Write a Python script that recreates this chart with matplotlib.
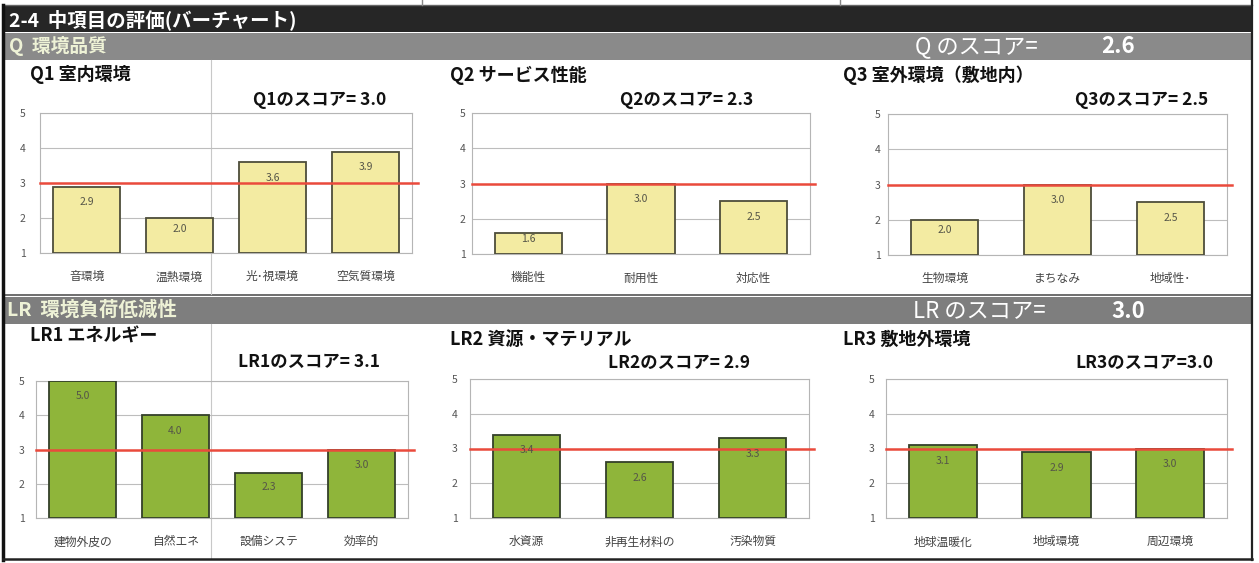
import matplotlib
matplotlib.use("Agg")
import matplotlib.pyplot as plt
from matplotlib.patches import Rectangle
from matplotlib.lines import Line2D

plt.rcParams['font.family'] = ['Noto Sans CJK JP', 'DejaVu Sans']

# ---------------- data ----------------
header_title = "2-4  中項目の評価(バーチャート)"
q_section = "Q  環境品質"
lr_section = "LR  環境負荷低減性"
q_total = 2.6
lr_total = 3.0

q1_title = "Q1 室内環境"
q1_score = 3.0
q1_labels = ['音環境', '温熱環境', '光･視環境', '空気質環境']
q1_values = [2.9, 2.0, 3.6, 3.9]

q2_title = "Q2 サービス性能"
q2_score = 2.3
q2_labels = ['機能性', '耐用性', '対応性']
q2_values = [1.6, 3.0, 2.5]

q3_title = "Q3 室外環境（敷地内）"
q3_score = 2.5
q3_labels = ['生物環境', 'まちなみ', '地域性･']
q3_values = [2.0, 3.0, 2.5]

lr1_title = "LR1 エネルギー"
lr1_score = 3.1
lr1_labels = ['建物外皮の', '自然エネ', '設備システ', '効率的']
lr1_values = [5.0, 4.0, 2.3, 3.0]

lr2_title = "LR2 資源・マテリアル"
lr2_score = 2.9
lr2_labels = ['水資源', '非再生材料の', '汚染物質']
lr2_values = [3.4, 2.6, 3.3]

lr3_title = "LR3 敷地外環境"
lr3_score = 3.0
lr3_labels = ['地球温暖化', '地域環境', '周辺環境']
lr3_values = [3.1, 2.9, 3.0]

reference_level = 3.0
y_ticks = [1, 2, 3, 4, 5]

# ---------------- style ----------------
W, H = 1259, 563
YELLOW = '#f3eba2'
YELLOW_EDGE = '#4d4d3a'
GREEN = '#8fb53a'
GREEN_EDGE = '#34402a'
RED = '#ea4a3c'

fig = plt.figure(figsize=(W / 100, H / 100), dpi=100)
fig.patch.set_facecolor('white')

bg = fig.add_axes([0, 0, 1, 1], zorder=0)
bg.set_xlim(0, W)
bg.set_ylim(H, 0)
bg.axis('off')

# top strip line and cell borders
bg.add_line(Line2D([4, 1252], [5, 5], color='#666666', lw=1))
for xx in (422, 840):
    bg.add_line(Line2D([xx, xx], [0, 5], color='#888888', lw=1))
# header
bg.add_patch(Rectangle((4, 6), 1248, 26, facecolor='#262626', edgecolor='none'))
bg.text(9, 19.5, header_title, color='white', fontsize=14, fontweight='bold',
        va='center', ha='left')
# Q band
bg.add_patch(Rectangle((4, 33), 1248, 27, facecolor='#8a8a8a', edgecolor='none'))
bg.text(9, 46.5, q_section, color='#eef2d6', fontsize=13.5, fontweight='bold',
        va='center', ha='left')
bg.text(915, 46.5, "Q のスコア=", color='white', fontsize=16, style='italic',
        va='center', ha='left')
bg.text(1101, 46.5, f"{q_total:.1f}", color='white', fontsize=16, style='italic',
        fontweight='bold', va='center', ha='left')
# separator & LR band
bg.add_line(Line2D([4, 1252], [294.5, 294.5], color='#555555', lw=1.2))
bg.add_patch(Rectangle((4, 297), 1248, 27, facecolor='#7e7e7e', edgecolor='none'))
bg.text(7, 310.5, lr_section, color='#eef2d6', fontsize=14, fontweight='bold',
        va='center', ha='left')
bg.text(913, 311, "LR のスコア=", color='white', fontsize=16, style='italic',
        va='center', ha='left')
bg.text(1111, 311, f"{lr_total:.1f}", color='white', fontsize=16, style='italic',
        fontweight='bold', va='center', ha='left')
# faint cell divider
bg.add_line(Line2D([211, 211], [60, 294], color='#c8c8c8', lw=0.8))
bg.add_line(Line2D([211, 211], [324, 558], color='#c8c8c8', lw=0.8))
# outer borders
bg.add_line(Line2D([3, 3], [5, 560], color='#111111', lw=2.5))
bg.add_line(Line2D([1252, 1252], [0, 560], color='#222222', lw=1.6))
bg.add_line(Line2D([3, 1252], [559, 559], color='#222222', lw=1.8))

panels = [
    (q1_title, q1_score, q1_labels, q1_values, (40, 113, 412, 253), (YELLOW, YELLOW_EDGE),
     (30, 75), (253, 100), 10.4, 0.72, "{}のスコア= "),
    (q2_title, q2_score, q2_labels, q2_values, (472, 113, 810, 254), (YELLOW, YELLOW_EDGE),
     (450, 75), (620, 100), 4.7, 0.6, "{}のスコア= "),
    (q3_title, q3_score, q3_labels, q3_values, (888, 114, 1227, 255), (YELLOW, YELLOW_EDGE),
     (843, 75), (1075, 100), 5.4, 0.6, "{}のスコア= "),
    (lr1_title, lr1_score, lr1_labels, lr1_values, (36, 381, 408, 518), (GREEN, GREEN_EDGE),
     (30, 336), (238, 362), 8.3, 0.72, "{}のスコア= "),
    (lr2_title, lr2_score, lr2_labels, lr2_values, (470, 379, 809, 518), (GREEN, GREEN_EDGE),
     (450, 339), (608, 363), 9.0, 0.6, "{}のスコア= "),
    (lr3_title, lr3_score, lr3_labels, lr3_values, (886, 379, 1227, 518), (GREEN, GREEN_EDGE),
     (843, 339), (1075, 363), 8.3, 0.6, "{}のスコア="),
]

for (title, score, labels, values, box, cols, tpos, spos, ypad, bw, sfmt) in panels:
    l, t, r, b = box
    ax = fig.add_axes([l / W, 1 - b / H, (r - l) / W, (b - t) / H], zorder=2)
    ax.set_facecolor('none')
    n = len(values)
    xs = list(range(n))
    heights = [v - 1 for v in values]
    ax.bar(xs, heights, bottom=1, width=bw, color=cols[0], edgecolor=cols[1],
           linewidth=1.3, zorder=3)
    for x, v in zip(xs, values):
        off = min(0.45, (v - 1) * 0.3)
        ax.text(x, v - off, f"{v:.1f}", ha='center', va='center', fontsize=7.5,
                color='#555548', zorder=5)
    ax.set_xlim(-0.5, n - 0.5)
    ax.set_ylim(1, 5)
    ax.axhline(reference_level, xmin=0, xmax=1.015, color=RED, lw=1.8, zorder=4,
               clip_on=False)
    ax.set_yticks(y_ticks)
    ax.set_yticklabels([str(v) for v in y_ticks])
    ax.set_xticks(xs)
    ax.set_xticklabels(labels)
    ax.tick_params(axis='y', length=0, pad=ypad, labelsize=7.5, labelcolor='#555555')
    ax.tick_params(axis='x', length=0, pad=12.5, labelsize=8.5, labelcolor='#444444')
    ax.grid(axis='y', color='#bdbdbd', lw=0.8, zorder=0)
    ax.set_axisbelow(True)
    for s in ax.spines.values():
        s.set_color('#b5b5b5')
        s.set_linewidth(0.8)
    key = title.split(' ')[0]
    bg.text(tpos[0], tpos[1], title, fontsize=13, fontweight='bold', color='#111111',
            va='center', ha='left')
    bg.text(spos[0], spos[1], sfmt.format(key) + f"{score:.1f}", fontsize=12.5,
            fontweight='bold', color='#111111', va='center', ha='left')

fig.savefig('out.png', dpi=100)
